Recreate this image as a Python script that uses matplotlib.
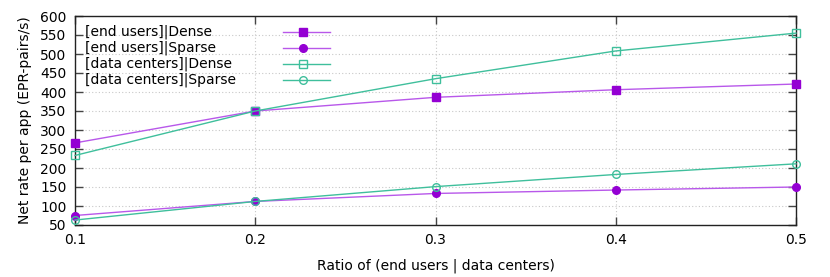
import matplotlib
matplotlib.use("Agg")
import matplotlib.pyplot as plt

# ratio of end users / data centers
ratio = [0.1, 0.2, 0.3, 0.4, 0.5]

# net rate per app (EPR-pairs/s)
eu_dense = [266, 350, 386, 406, 421]
eu_sparse = [75, 112, 133, 142, 150]
dc_dense = [233, 350, 435, 508, 555]
dc_sparse = [63, 112, 151, 183, 211]

labels = ["[end users]|Dense", "[end users]|Sparse",
          "[data centers]|Dense", "[data centers]|Sparse"]

purple = "#9400d3"
purple_line = "#b858ea"
green = "#3fbf9c"

plt.rcParams['font.family'] = ['DejaVu Sans']
plt.rcParams['font.size'] = 10

fig = plt.figure(figsize=(8.3, 2.77), dpi=100)
ax = fig.add_axes([75/830, 1-225/277, 721/830, 209/277])

series = [
    (eu_dense, purple_line, dict(marker='s', ms=5.5, mfc=purple, mec=purple)),
    (eu_sparse, purple_line, dict(marker='o', ms=5.5, mfc=purple, mec=purple)),
    (dc_dense, green, dict(marker='s', ms=6, mfc='none', mec=green, mew=1)),
    (dc_sparse, green, dict(marker='o', ms=5.5, mfc='none', mec=green, mew=1)),
]

for ys, col, mk in series:
    ax.plot(ratio, ys, color=col, lw=1, clip_on=False, zorder=3, **mk)

ax.set_xlim(0.1, 0.5)
ax.set_ylim(50, 600)
ax.set_xticks(ratio)
ax.set_xticklabels([str(r) for r in ratio])
ax.set_yticks(range(50, 601, 50))
ax.grid(True, color="#c8c8c8", linestyle=(0, (1, 2)), lw=0.8)
ax.tick_params(direction='in', length=6, width=1, color="#444444",
               top=True, right=True, pad=6)
for s in ax.spines.values():
    s.set_color("#222222")
    s.set_linewidth(1)

ax.set_xlabel("Ratio of (end users | data centers)", labelpad=8)
ax.set_ylabel("Net rate per app (EPR-pairs/s)", labelpad=6)

# gnuplot-style key: text left aligned, sample on the right
key_y = [0.923, 0.847, 0.770, 0.694]
for (ys, col, mk), lab, ky in zip(series, labels, key_y):
    ax.text(0.014, ky, lab, transform=ax.transAxes, va='center', ha='left')
    ax.plot([0.289, 0.354], [ky, ky], transform=ax.transAxes, color=col,
            lw=1, clip_on=False)
    ax.plot([0.316], [ky], transform=ax.transAxes, ls='none',
            clip_on=False, **mk)

fig.savefig("out.png", dpi=100)
